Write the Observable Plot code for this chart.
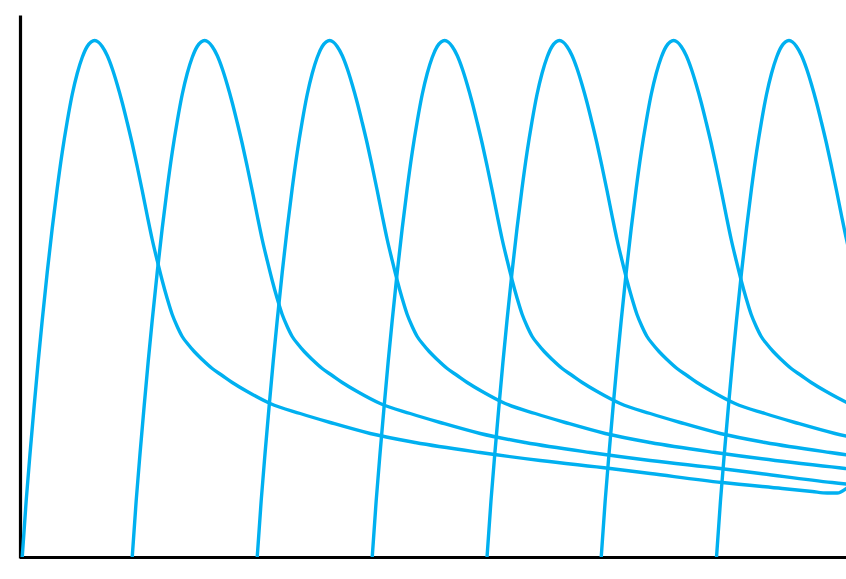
<!DOCTYPE html>
<html>
<head>
<meta charset="utf-8">
<script src="https://cdn.jsdelivr.net/npm/d3@7"></script>
<script src="https://cdn.jsdelivr.net/npm/@observablehq/plot@0.6"></script>
<style>
  html, body { margin: 0; padding: 0; background: #fff; }
  #chart svg { display: block; }
</style>
</head>
<body>
<div id="chart"></div>
<script>
// Start time of each dose (x units)
const doseTimes = [1.7, 111.7, 236.7, 351.7, 466.5, 580.7, 696];

// Single-dose concentration profile: time since dose, level
const profileTime  = [0, 4, 8, 12, 16, 20, 25, 30, 35, 40, 45, 50, 55, 60, 65, 69, 72.5, 76, 80, 85, 90, 95, 100, 105, 110, 115, 120, 125, 130, 135, 140, 145, 150, 155, 160, 166, 172, 180, 190, 200, 210, 225, 248, 278, 308, 348, 393, 458, 518, 588, 628, 700, 760, 790, 805, 815, 824];
const profileLevel = [0, 57, 106, 152, 196, 237, 285, 329, 369, 405, 436, 463, 484, 500, 511, 515.6, 517, 515.5, 511, 502, 489, 473, 455, 435, 414, 391, 367, 342, 318, 297, 277, 259, 243, 231, 221, 213, 206, 198, 189, 182, 175, 166, 154, 144, 135, 124, 115, 105, 97, 89, 84, 75, 69, 66, 64.5, 64.5, 69];

const rows = [];
doseTimes.forEach((t0, i) => {
  profileTime.forEach((dt, j) => {
    rows.push({dose: i, t: t0 + dt, c: profileLevel[j]});
  });
});

const chart = Plot.plot({
  width: 846,
  height: 579,
  marginLeft: 20,
  marginRight: 0,
  marginTop: 17,
  marginBottom: 22,
  x: {domain: [0, 826], axis: null},
  y: {domain: [0, 540], axis: null},
  marks: [
    Plot.ruleX([0], {stroke: "black", strokeWidth: 3.2, strokeLinecap: "square"}),
    Plot.ruleY([0], {stroke: "black", strokeWidth: 3.2}),
    Plot.line(rows, {x: "t", y: "c", z: "dose", stroke: "#00b0f0", strokeWidth: 3.4, curve: "monotone-x", clip: true})
  ]
});
document.getElementById("chart").appendChild(chart);
</script>
</body>
</html>
